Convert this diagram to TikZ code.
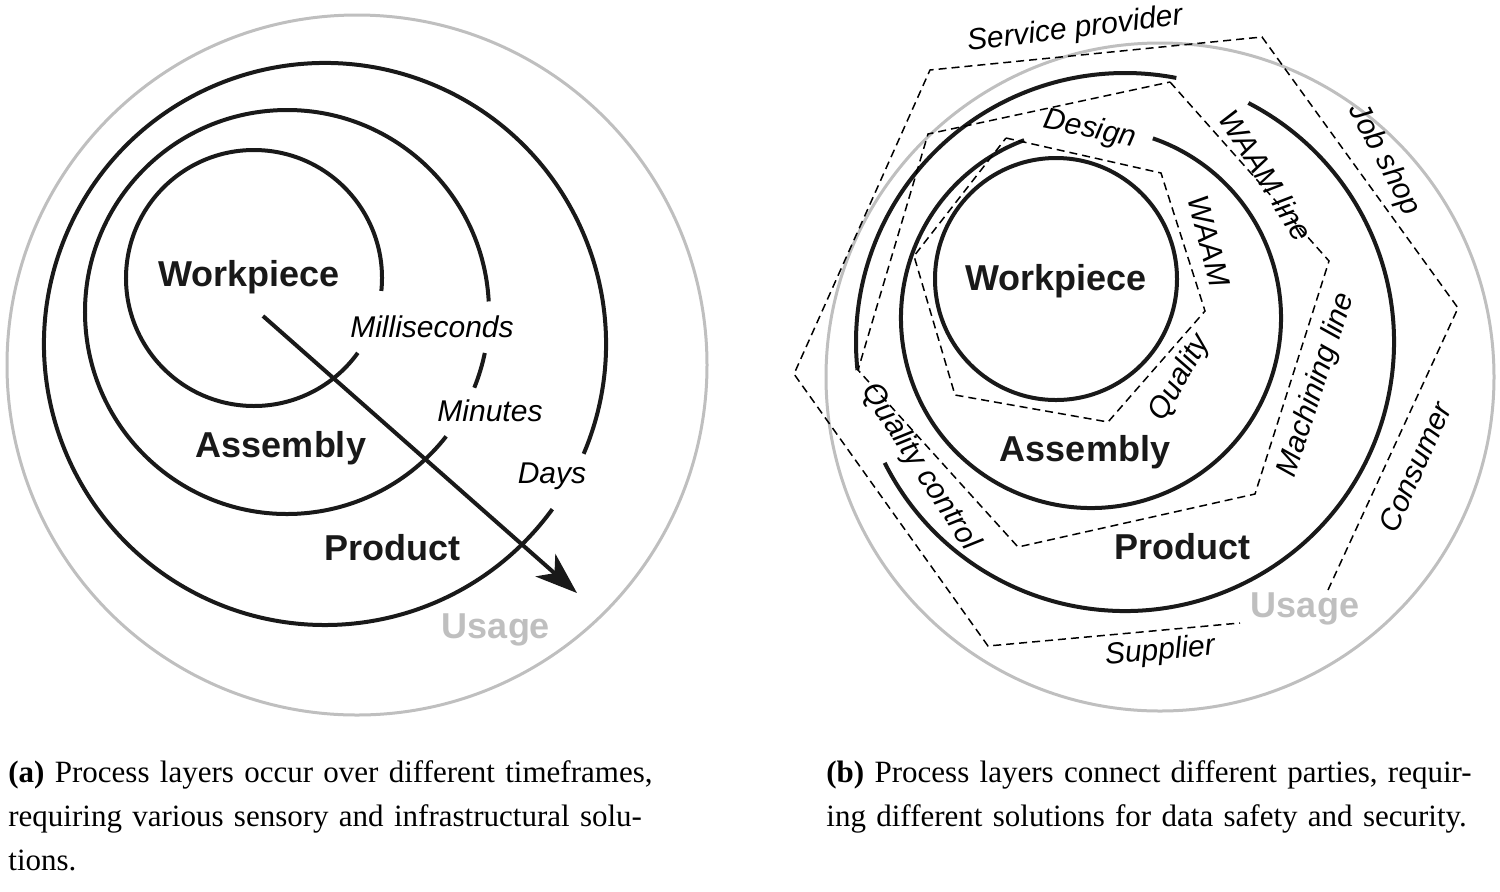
\documentclass[tikz,border=0pt]{standalone}
\usepackage{fontspec}
\setmainfont{Liberation Serif}
\newfontfamily\lsans{Liberation Sans}
\usetikzlibrary{arrows.meta}
\begin{document}
\begin{tikzpicture}[x=0.5pt,y=-0.5pt,
  myring/.style={line width=2pt,black!90},
  mygrey/.style={line width=1.5pt,black!25},
  mydash/.style={line width=0.75pt,dash pattern=on 4pt off 2.5pt},
  mybig/.style={font=\lsans\bfseries\fontsize{18}{20}\selectfont,text=black!90},
  mylab/.style={font=\lsans\itshape\fontsize{15}{17}\selectfont,inner sep=0pt},
  myusage/.style={font=\lsans\bfseries\fontsize{18}{20}\selectfont,text=black!25},
  captxt/.style={font=\fontsize{15.5}{22}\selectfont,align=left,anchor=north west,inner sep=0pt,text width=330pt}]
\useasboundingbox (0,0) rectangle (1500,891);
% ---------- panel (a)
\draw[mygrey] (357,365) circle[radius=350];
\draw[myring] (254,278) ++(5.8:128) arc[start angle=5.8,end angle=-324.2,radius=128];
\draw[myring] (287,312) ++(-3:202) arc[start angle=-3,end angle=-322,radius=202];
\draw[myring] (287,312) ++(22:202) arc[start angle=22,end angle=11.7,radius=202];
\draw[myring] (325,344) ++(23:281) arc[start angle=23,end angle=-324,radius=281];
\coordinate (as) at (263,316);
\coordinate (ae) at (577,593);
\draw[line width=2pt,black!90,-{Stealth[length=21pt,width=15pt,inset=6pt]}] (as) -- (ae);
\node[mybig] (wa) at (249,277) {Workpiece};
\node[mybig] (aa) at (281,448) {Assembly};
\node[mybig] (pa) at (392,548) {Product};
\node[myusage] (ua) at (496,630) {Usage};
\node[mylab] (ms) at (432,327) {Milliseconds};
\node[mylab] (mi) at (490,411) {Minutes};
\node[mylab] (dy) at (552,476) {Days};
\node[captxt] (capa) at (8,760) {\textbf{(a)} Process layers occur over different timeframes, requiring various sensory and infrastructural solutions.};
% ---------- panel (b)
\draw[mygrey] (1160,377) circle[radius=334];
\draw[myring] (1056,279) circle[radius=121];
\draw[myring] (1091,318) ++(-110.6:190) arc[start angle=-110.6,end angle=-431,radius=190];
\draw[myring] (1125,342) ++(-79:269) arc[start angle=-79,end angle=-186,radius=269];
\draw[myring] (1125,342) ++(153.3:269) arc[start angle=153.3,end angle=-62.7,radius=269];
% dashed polygons
\coordinate (o1) at (1328,590);
\coordinate (o2) at (1458,308);
\coordinate (o3) at (1262,37);
\coordinate (o4) at (930,70);
\coordinate (o5) at (794,374);
\coordinate (o6) at (988,646);
\coordinate (o7) at (1240,623);
\draw[mydash] (o1) -- (o2) -- (o3) -- (o4) -- (o5) -- (o6) -- (o7);
\coordinate (m1) at (1170,82);
\coordinate (m2) at (1329,261);
\coordinate (m3) at (1255,494);
\coordinate (m4) at (1018,547);
\coordinate (m5) at (858,370);
\coordinate (m6) at (928,134);
\draw[mydash] (m1) -- (m2) -- (m3) -- (m4) -- (m5) -- (m6) -- cycle;
\coordinate (i1) at (1006,138);
\coordinate (i2) at (1161,173);
\coordinate (i3) at (1205,311);
\coordinate (i4) at (1108,422);
\coordinate (i5) at (955,395);
\coordinate (i6) at (914,256);
\draw[mydash] (i1) -- (i2) -- (i3) -- (i4) -- (i5) -- (i6) -- cycle;
\node[mybig] (wb) at (1056,281) {Workpiece};
\node[mybig] (ab) at (1085,452) {Assembly};
\node[mybig] (pb) at (1182,547) {Product};
\node[myusage] (ub) at (1305,609) {Usage};
\node[mylab,rotate=7] (sp) at (1075,30) {Service provider};
\node[mylab,rotate=-62] (js) at (1384,160) {Job shop};
\node[mylab,rotate=-58] (wl) at (1266,175) {WAAM line};
\node[mylab,rotate=-76] (wm) at (1209,241) {WAAM};
\node[mylab,rotate=-12] (ds) at (1090,130) {Design};
\node[mylab,rotate=60] (ql) at (1180,378) {Quality};
\node[mylab,rotate=72] (ml) at (1317,385) {Machining line};
\node[mylab,rotate=66] (cs) at (1415,467) {Consumer};
\node[mylab,rotate=5] (su) at (1160,652) {Supplier};
\node[mylab,rotate=-57] (qc) at (920,467) {Quality control};
\node[captxt] (capb) at (826,760) {\textbf{(b)} Process layers connect different parties, requiring different solutions for data safety and security.};
\end{tikzpicture}
\end{document}
